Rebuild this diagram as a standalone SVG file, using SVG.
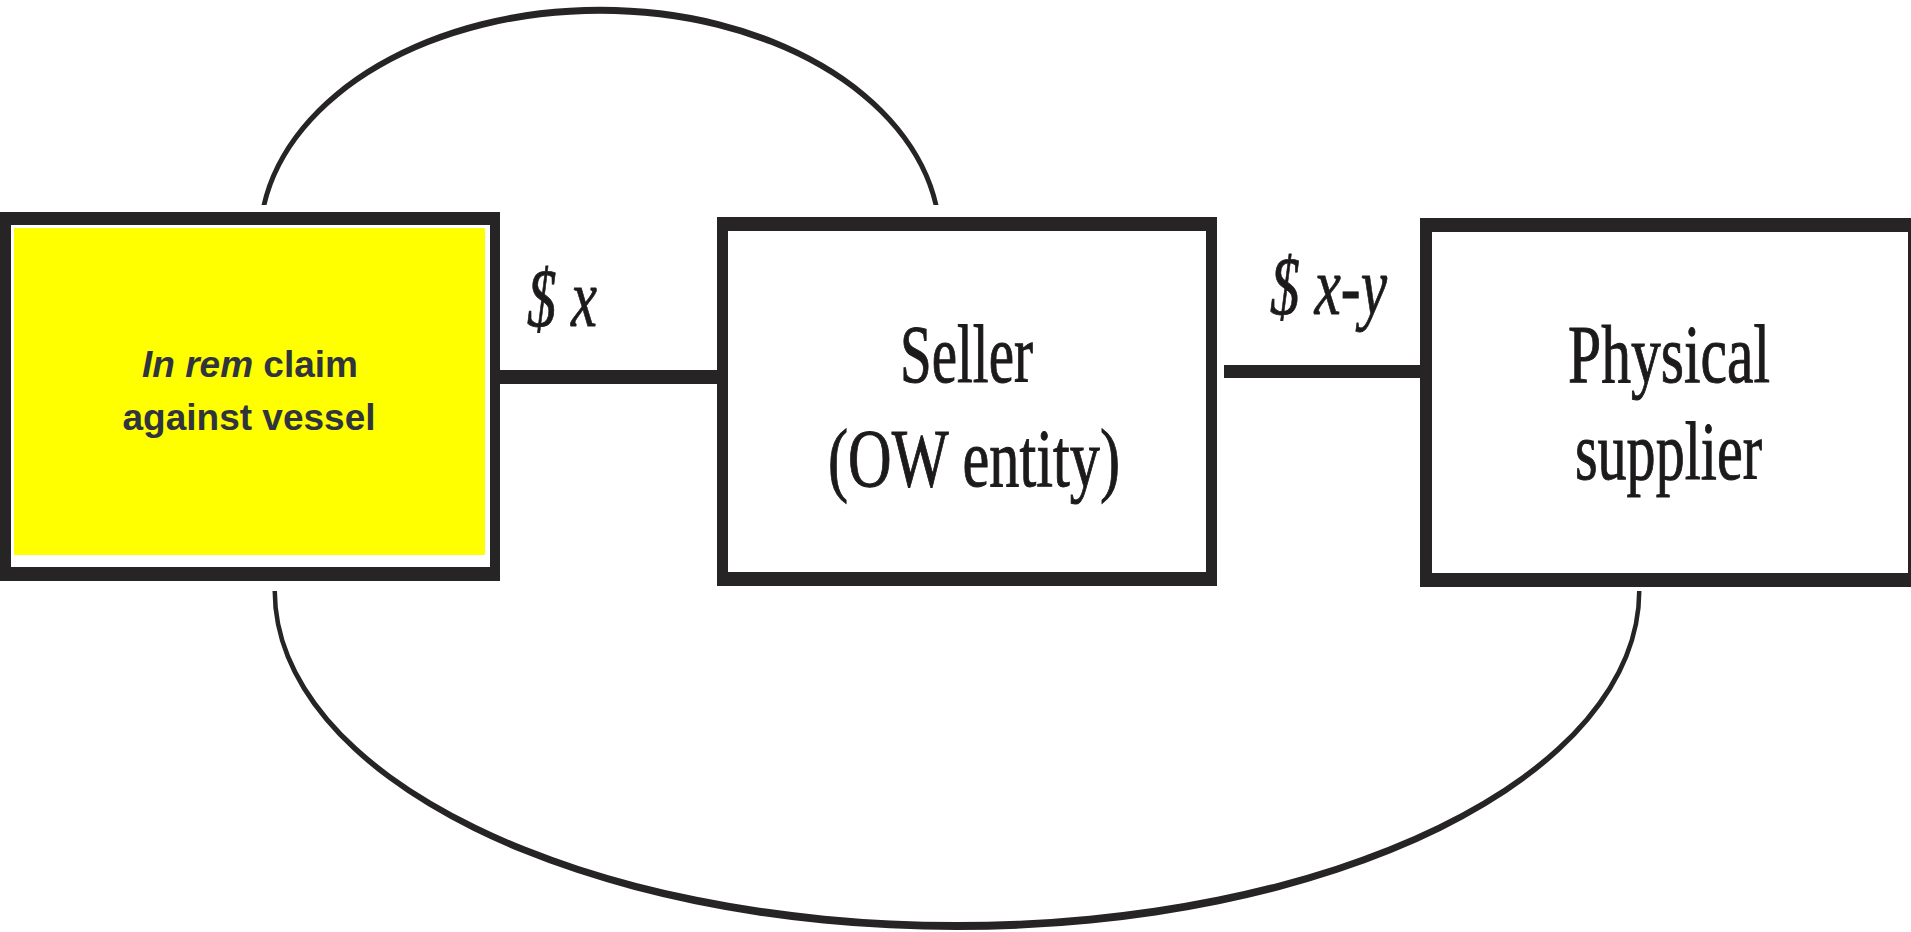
<svg xmlns="http://www.w3.org/2000/svg" width="1911" height="932" viewBox="0 0 1911 932">
<style>
.border{fill:#262424}
.inner{fill:#ffffff}
.conn{fill:#262424}
.serif{font-family:"Liberation Serif","Times New Roman",serif;font-size:83px;fill:#1c1a1a;stroke:#1c1a1a;stroke-width:1}
.lbl{font-family:"Liberation Serif","Times New Roman",serif;font-size:83px;font-style:italic;fill:#1c1a1a;stroke:#1c1a1a;stroke-width:0.8}
.sans{font-family:"Liberation Sans",Arial,sans-serif;font-size:37px;font-weight:bold;fill:#30353d}
</style>
<rect width="1911" height="932" fill="#ffffff"/>
<g id="connectors">
<path class="conn" d="M 261.5 205 A 342.5 234 0 0 1 938.5 205 L 933.5 205 A 337.5 226 0 0 0 266.5 205 Z"/>
<path class="conn" d="M 272.5 591 A 684.5 339 0 0 0 1641.5 591 L 1637 591 A 680 331 0 0 1 277 591 Z"/>
<rect class="conn" x="497" y="370" width="223" height="14"/>
<rect class="conn" x="1224" y="365" width="198" height="13"/>
<text class="lbl" x="527" y="326" textLength="70" lengthAdjust="spacingAndGlyphs">$ x</text>
<text class="lbl" x="1270" y="314" textLength="117" lengthAdjust="spacingAndGlyphs">$ x-y</text>
</g>
<g id="node-claim">
<rect class="border" x="0" y="212" width="500" height="369"/>
<rect class="inner" x="11" y="225" width="479" height="342"/>
<rect x="14" y="228" width="471" height="327" fill="#ffff00"/>
<text class="sans" x="250" y="377" text-anchor="middle"><tspan font-style="italic">In rem</tspan> claim</text>
<text class="sans" x="249" y="430" text-anchor="middle">against vessel</text>
</g>
<g id="node-seller">
<rect class="border" x="717" y="217" width="500" height="369"/>
<rect class="inner" x="728" y="231" width="478" height="341"/>
<text class="serif" x="900" y="382" textLength="133" lengthAdjust="spacingAndGlyphs">Seller</text>
<text class="serif" x="828" y="486" textLength="292" lengthAdjust="spacingAndGlyphs">(OW entity)</text>
</g>
<g id="node-supplier">
<rect class="border" x="1420" y="218" width="491" height="369"/>
<rect class="inner" x="1432" y="232" width="476" height="341"/>
<text class="serif" x="1568" y="382" textLength="202" lengthAdjust="spacingAndGlyphs">Physical</text>
<text class="serif" x="1575" y="479" textLength="187" lengthAdjust="spacingAndGlyphs">supplier</text>
</g>
</svg>
